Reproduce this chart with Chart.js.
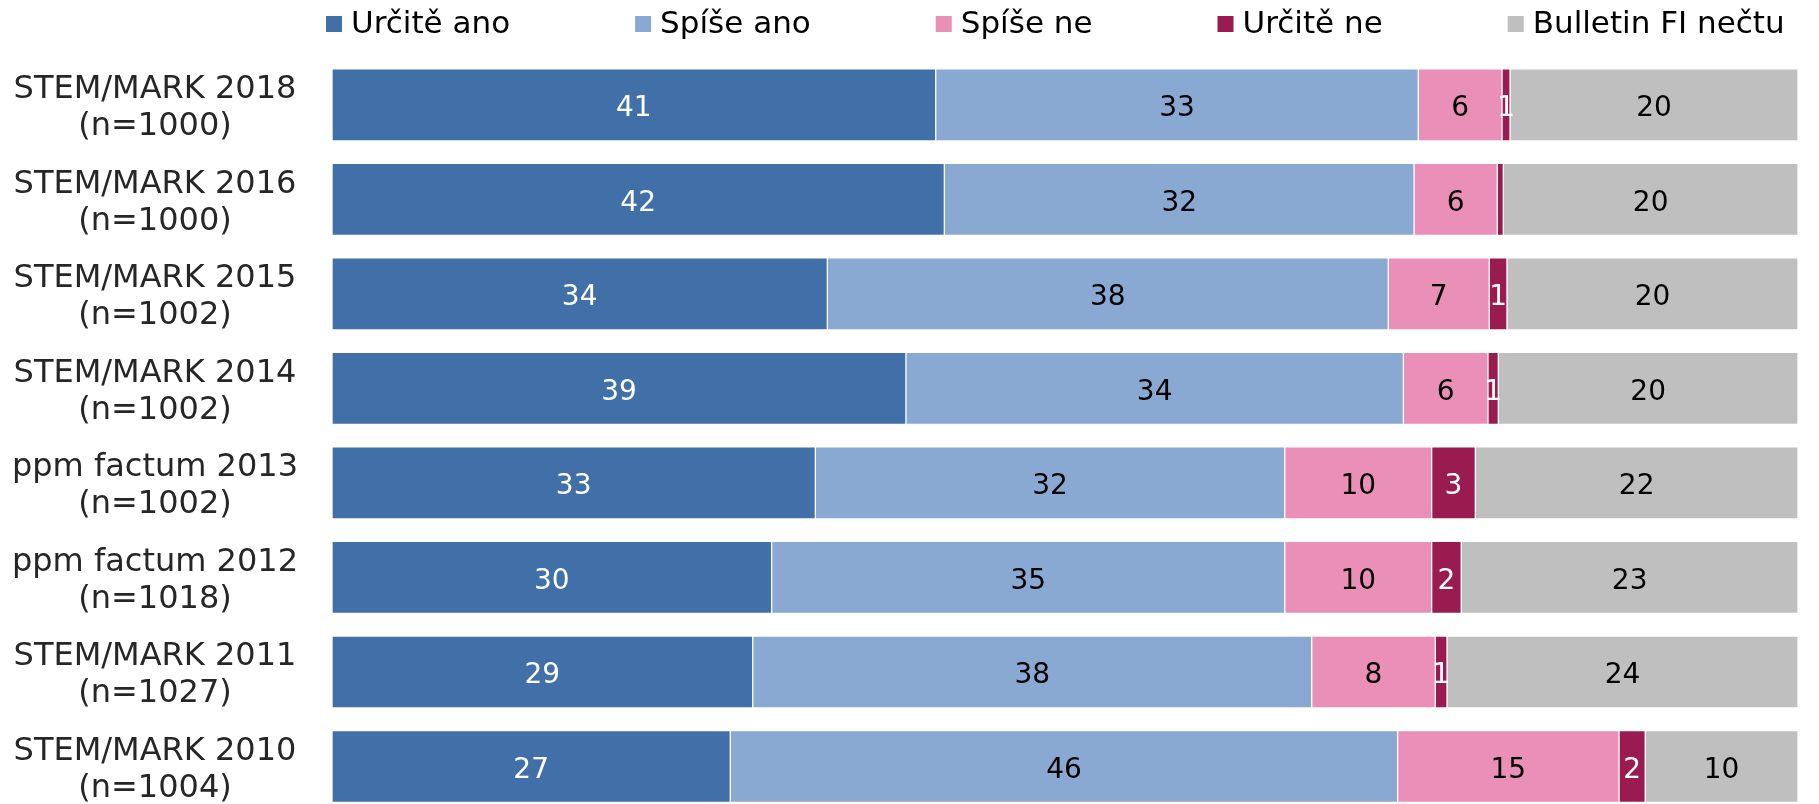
<!DOCTYPE html>
<html>
<head>
<meta charset="utf-8">
<script src="https://cdn.jsdelivr.net/npm/chart.js@4/dist/chart.umd.min.js"></script>
<style>
html, body { margin: 0; padding: 0; background: #ffffff; }
#wrap { width: 1819px; height: 804px; position: relative; }
</style>
</head>
<body>
<div id="wrap"><canvas id="c"></canvas></div>
<script>
// ---- data ----
const categories = [
  ['STEM/MARK 2018', '(n=1000)'],
  ['STEM/MARK 2016', '(n=1000)'],
  ['STEM/MARK 2015', '(n=1002)'],
  ['STEM/MARK 2014', '(n=1002)'],
  ['ppm factum 2013', '(n=1002)'],
  ['ppm factum 2012', '(n=1018)'],
  ['STEM/MARK 2011', '(n=1027)'],
  ['STEM/MARK 2010', '(n=1004)']
];
const seriesNames = ['Určitě ano', 'Spíše ano', 'Spíše ne', 'Určitě ne', 'Bulletin FI nečtu'];
const urciteAno = [41.18, 41.77, 33.79, 39.15, 32.97, 29.99, 28.70, 27.17];
const spiseAno  = [32.92, 32.04, 38.26, 33.93, 32.02, 35.00, 38.13, 45.52];
const spiseNe   = [5.71, 5.68, 6.89, 5.77, 10.02, 10.02, 8.43, 15.10];
const urciteNe  = [0.55, 0.41, 1.21, 0.71, 2.98, 2.02, 0.80, 1.79];
const necte     = [19.64, 20.10, 19.85, 20.44, 22.01, 22.97, 23.94, 10.42];

// ---- styles ----
const colors = ['#4170A8', '#89A9D2', '#EA8FB8', '#991B50', '#BFBFBF'];
const labelColors = ['#ffffff', '#000000', '#000000', '#ffffff', '#000000'];
const FONT = '"DejaVu Sans", Verdana, sans-serif';

const seriesValues = [urciteAno, spiseAno, spiseNe, urciteNe, necte];
const datasets = seriesValues.map((vals, i) => ({
  label: seriesNames[i],
  data: vals,
  backgroundColor: colors[i],
  borderColor: '#ffffff',
  borderWidth: 1,
  borderSkipped: false,
  barThickness: 72,
  clip: false
}));

// data labels plugin
const dataLabels = {
  id: 'dataLabels',
  afterDatasetsDraw(chart) {
    const ctx = chart.ctx;
    ctx.save();
    ctx.font = '28px ' + FONT;
    ctx.textAlign = 'center';
    ctx.textBaseline = 'middle';
    chart.data.datasets.forEach((ds, di) => {
      const meta = chart.getDatasetMeta(di);
      meta.data.forEach((bar, i) => {
        const v = Math.round(ds.data[i]);
        if (!v) return;
        const cx = (bar.x + bar.base) / 2;
        ctx.fillStyle = labelColors[di];
        ctx.fillText(String(v), cx, bar.y + 4);
      });
    });
    ctx.restore();
  }
};

// custom legend plugin
const customLegend = {
  id: 'customLegend',
  afterDraw(chart) {
    const ctx = chart.ctx;
    ctx.save();
    ctx.font = '31px ' + FONT;
    ctx.textBaseline = 'middle';
    ctx.textAlign = 'left';
    let x = 326;
    const boxTop = 16, box = 16, cy = 24;
    chart.data.datasets.forEach((ds) => {
      ctx.fillStyle = ds.backgroundColor;
      ctx.fillRect(x, boxTop, box, box);
      ctx.fillStyle = '#000000';
      ctx.fillText(ds.label, x + box + 9, cy + 1);
      x += box + 9 + ctx.measureText(ds.label).width + 125;
    });
    ctx.restore();
  }
};

new Chart(document.getElementById('c'), {
  type: 'bar',
  data: { labels: categories, datasets },
  options: {
    indexAxis: 'y',
    responsive: true,
    maintainAspectRatio: false,
    animation: false,
    layout: { padding: { left: 0, right: 21, top: 104.8, bottom: 37.5 } },
    plugins: { legend: { display: false }, tooltip: { enabled: false } },
    scales: {
      x: { stacked: true, min: 0, max: 100, display: false },
      y: {
        stacked: true,
        offset: false,
        grid: { display: false, drawTicks: false },
        border: { display: false },
        ticks: {
          crossAlign: 'center',
          padding: 34,
          labelOffset: 3.5,
          color: '#262626',
          font: { family: FONT, size: 32, lineHeight: 1.16 }
        },
        afterFit(scale) {
          scale.width = 332;
          scale.paddingTop = 0;
          scale.paddingBottom = 0;
        }
      }
    }
  },
  plugins: [dataLabels, customLegend]
});
</script>
</body>
</html>
